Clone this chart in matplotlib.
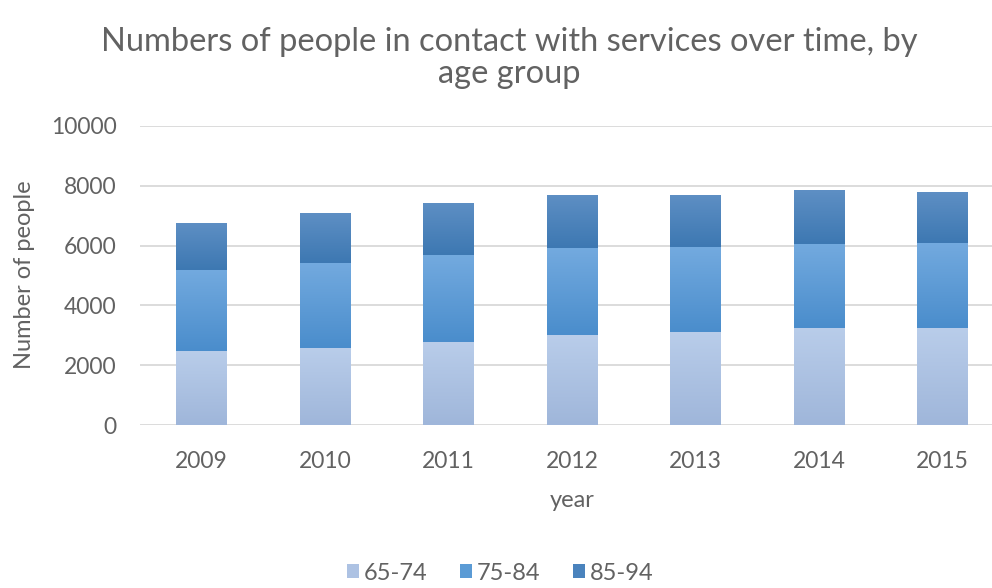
import numpy as np
import matplotlib
matplotlib.use('Agg')
import matplotlib.pyplot as plt
from matplotlib.colors import LinearSegmentedColormap
from matplotlib.patches import Patch

years = ['2009', '2010', '2011', '2012', '2013', '2014', '2015']
age_groups = ['65-74', '75-84', '85-94']
people_65_74 = [2470, 2570, 2790, 3010, 3120, 3260, 3230]
people_75_84 = [2710, 2860, 2900, 2900, 2820, 2810, 2850]
people_85_94 = [1580, 1670, 1750, 1780, 1750, 1780, 1700]

# (bottom colour, top colour) of each gradient fill
fills = [('#9fb6da', '#b9cdea'), ('#4a8dcc', '#73aadf'), ('#3d78b2', '#5e8fc4')]
legend_colors = ['#adc2e3', '#5b9bd5', '#4a83bd']
text_color = '#626262'

plt.rcParams['font.family'] = ['Lato', 'DejaVu Sans']

fig = plt.figure(figsize=(9.92, 5.88), dpi=100)
ax = fig.add_axes([140 / 992, 163 / 588, 864 / 992, 299 / 588])

x = np.arange(len(years))
bottom = np.zeros(len(years))
for vals, (c0, c1) in zip([people_65_74, people_75_84, people_85_94], fills):
    bars = ax.bar(x, vals, bottom=bottom, width=0.41, color='none', edgecolor='none', zorder=2)
    cmap = LinearSegmentedColormap.from_list('grad', [c0, c1])
    grad = np.linspace(0, 1, 128).reshape(-1, 1)
    for bar in bars:
        x0, y0 = bar.get_x(), bar.get_y()
        im = ax.imshow(grad, cmap=cmap, origin='lower', aspect='auto',
                       extent=[x0, x0 + bar.get_width(), y0, y0 + bar.get_height()],
                       zorder=2, interpolation='bilinear')
        im.set_clip_path(bar)
    bottom += np.array(vals)

ax.set_xlim(-0.5, 6.5)
ax.set_ylim(0, 10000)
ax.set_yticks(range(0, 10001, 2000))
ax.set_xticks(x)
ax.set_xticklabels(years)
ax.yaxis.grid(True, color='#d9d9d9', linewidth=1.3, zorder=0)
ax.set_axisbelow(True)
for s in ax.spines.values():
    s.set_visible(False)
ax.tick_params(axis='both', length=0, labelsize=16.5, colors=text_color)
ax.tick_params(axis='y', pad=17)
ax.tick_params(axis='x', pad=19)

ax.set_xlabel('year', fontsize=17, color=text_color, labelpad=13)
fig.text(25 / 992, 1 - 275 / 588, 'Number of people', rotation=90, fontsize=17,
         color=text_color, ha='center', va='center')

fig.text(509 / 992, 1 - 58 / 588, 'Numbers of people in contact with services over time, by\nage group',
         fontsize=23.5, color=text_color, ha='center', va='center', linespacing=1.08)

handles = [Patch(facecolor=c, edgecolor='none', label=g) for c, g in zip(legend_colors, age_groups)]
fig.legend(handles=handles, loc='center', bbox_to_anchor=(500 / 992, 15 / 588), ncol=3,
           frameon=False, fontsize=17, handlelength=0.5, handleheight=0.5,
           handletextpad=0.2, columnspacing=1.4, labelcolor=text_color)

fig.savefig('out.png', dpi=100)
